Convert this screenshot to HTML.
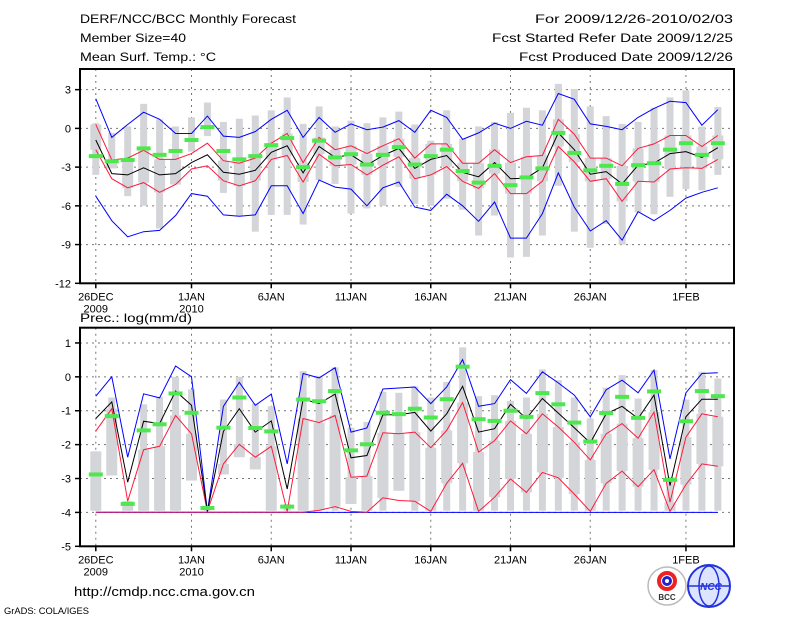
<!DOCTYPE html>
<html><head><meta charset="utf-8"><style>
body{margin:0;background:#fff;width:800px;height:618px;overflow:hidden}
svg{display:block;font-family:"Liberation Sans",sans-serif}
</style></head><body>
<svg id="chart" width="800" height="618" viewBox="0 0 800 618">
<g font-size="12" fill="#000">
<text x="80" y="23" textLength="216" lengthAdjust="spacingAndGlyphs">DERF/NCC/BCC Monthly Forecast</text>
<text x="80" y="42" textLength="106" lengthAdjust="spacingAndGlyphs">Member Size=40</text>
<text x="80" y="61" textLength="136" lengthAdjust="spacingAndGlyphs">Mean Surf. Temp.: °C</text>
<text x="535" y="23" textLength="198" lengthAdjust="spacingAndGlyphs">For 2009/12/26-2010/02/03</text>
<text x="492" y="42" textLength="241" lengthAdjust="spacingAndGlyphs">Fcst Started Refer Date 2009/12/25</text>
<text x="519" y="61" textLength="214" lengthAdjust="spacingAndGlyphs">Fcst Produced Date 2009/12/26</text>
</g>
<text x="80" y="322" font-size="12" textLength="112" lengthAdjust="spacingAndGlyphs">Prec.: log(mm/d)</text>
<text x="74" y="596" font-size="13" textLength="181" lengthAdjust="spacingAndGlyphs">http://cmdp.ncc.cma.gov.cn</text>
<text x="4" y="614" font-size="9" textLength="85" lengthAdjust="spacingAndGlyphs">GrADS: COLA/IGES</text>
<g>
<circle cx="667" cy="586" r="19" fill="#fff" stroke="#bbb" stroke-width="1.5"/>
<circle cx="667" cy="581" r="8" fill="none" stroke="#e22" stroke-width="4"/>
<circle cx="667" cy="581" r="3.5" fill="none" stroke="#22c" stroke-width="3"/>
<text x="667" y="600" font-size="8" text-anchor="middle" font-weight="bold" fill="#333">BCC</text>
</g>
<g>
<circle cx="709" cy="586" r="21" fill="#dde4ff" stroke="#2233dd" stroke-width="2"/>
<ellipse cx="709" cy="586" rx="10" ry="20" fill="none" stroke="#2233dd" stroke-width="1.5"/>
<line x1="688" y1="586" x2="730" y2="586" stroke="#2233dd" stroke-width="1.5"/>
<text x="711" y="590" font-size="10" text-anchor="middle" font-style="italic" font-weight="bold" fill="#2233dd">NCC</text>
</g>
<g id="plots"></g>
</svg>
<script>
// ---- data: temperature panel ----
const tBarMax=[0.4,-0.35,0.15,1.9,0.7,0.15,0.85,2.0,0.5,0.75,1.0,1.4,2.4,0.35,1.7,0.15,0.6,0.4,0.85,1.3,0.3,-0.95,1.4,-0.8,0.15,0.5,1.2,1.6,1.4,3.45,3.05,1.7,0.95,0.35,0.5,1.6,2.4,2.95,0.15,1.65];
const tBarMin=[-3.6,-3.1,-5.25,-6.0,-7.75,-4.35,-1.8,-0.6,-5.0,-6.8,-8.0,-6.7,-6.7,-7.45,-4.0,-4.3,-6.6,-6.2,-6.0,-4.55,-5.85,-6.0,-5.45,-6.3,-8.3,-6.75,-10.0,-9.95,-8.3,-4.45,-8.0,-9.25,-7.4,-9.0,-6.5,-6.65,-5.3,-4.7,-4.8,-3.6];
const tBlueHi=[2.3,-0.7,0.3,1.25,0.7,-0.4,-0.4,0.95,-0.6,-0.7,-0.25,0.7,1.4,-0.7,0.85,-0.3,0.35,-0.1,0.1,0.6,-0.3,1.4,0.85,-0.85,-0.35,0.4,0,0.55,0.25,2.7,2.25,0.35,0.15,-0.1,0.85,1.55,2.1,2.0,0.25,1.45];
const tBlueLo=[-5.25,-7.15,-8.4,-8.0,-7.9,-6.75,-5.05,-5.25,-6.7,-6.8,-6.7,-4.45,-4.45,-6.6,-4.0,-4.55,-4.7,-6.0,-4.6,-4.15,-6.1,-6.35,-5.1,-6.0,-7.2,-5.7,-8.5,-8.5,-6.6,-3.45,-6.1,-7.95,-7.15,-8.65,-6.45,-7.15,-6.35,-5.4,-4.95,-4.6];
const tRedHi=[0.3,-2.45,-2.3,-1.7,-2.4,-2.4,-1.95,-1.15,-2.5,-2.7,-2.3,-1.15,-0.4,-2.65,-0.7,-1.65,-1.35,-1.95,-1.35,-0.8,-2.3,-1.2,-1.2,-2.7,-2.7,-1.65,-2.65,-2.2,-2.1,0.7,-0.45,-2.3,-2.3,-2.9,-1.55,-1.2,-0.55,-0.55,-1.4,-0.55];
const tRedLo=[-1.65,-3.9,-4.6,-4.2,-4.95,-4.35,-3.15,-2.9,-4.05,-4.45,-4.05,-2.4,-2.1,-4.15,-2.0,-2.9,-2.8,-3.6,-2.85,-2.2,-3.9,-3.6,-2.95,-4.1,-4.65,-3.5,-5.05,-5.05,-4.1,-1.4,-2.6,-4.1,-3.9,-5.65,-4.1,-4.15,-3.15,-3.05,-3.1,-2.4];
const tMean=[-0.9,-3.5,-3.6,-3.05,-3.6,-3.5,-2.65,-2.05,-3.4,-3.55,-3.25,-1.85,-1.35,-3.45,-1.4,-2.25,-2.05,-2.85,-2.1,-1.55,-3.1,-2.4,-2.1,-3.4,-3.75,-2.65,-3.9,-3.85,-3.05,-0.35,-1.65,-3.55,-3.35,-4.3,-2.85,-2.7,-1.95,-1.8,-2.25,-1.5];
const tObs=[-2.15,-2.55,-2.45,-1.55,-2.05,-1.75,-0.9,0.1,-1.75,-2.4,-2.15,-1.3,-0.75,-3.0,-0.95,-2.25,-2.0,-2.8,-2.05,-1.45,-2.8,-2.15,-1.65,-3.3,-4.2,-2.9,-4.4,-3.8,-3.1,-0.35,-1.9,-3.25,-2.9,-4.3,-2.85,-2.7,-1.65,-1.15,-2.05,-1.15];
const tTicks=[3,0,-3,-6,-9,-12];
// ---- data: precipitation panel ----
const pBarMax=[-2.2,-0.61,-3.67,-0.81,-0.59,0,-0.37,-3.87,-0.67,0,-0.79,-0.87,-3.75,0.17,0.03,0.28,-1.5,-1.33,-0.44,-0.47,-0.28,-0.61,-0.15,0.87,-0.57,-0.54,-0.71,-0.61,0.22,-0.1,-0.61,-1.23,-0.32,0.05,-0.64,0.2,-2.96,-0.67,0.15,-0.05];
const pBarMin=[-3.95,-2.91,-3.95,-3.95,-3.95,-3.95,-3.06,-3.95,-2.88,-2.37,-2.73,-3.95,-3.95,-3.95,-3.95,-3.95,-3.75,-3.95,-3.95,-3.36,-3.95,-3.95,-3.95,-3.95,-3.95,-3.95,-3.95,-3.95,-3.95,-3.95,-3.95,-3.95,-3.95,-3.95,-3.95,-3.95,-3.95,-3.95,-3.95,-3.95];
const pBlueHi=[-0.57,0,-2.37,-0.5,-0.62,0.32,0,-3.97,-0.87,-0.16,-0.84,-0.51,-2.57,0.1,-0.03,0.27,-1.63,-1.51,-0.36,-0.33,-0.3,-0.79,-0.3,0.51,-0.87,-0.79,-0.08,-0.49,0.15,-0.18,-0.54,-1.18,-0.38,-0.1,-0.47,0.2,-2.42,-0.47,0.1,0.12];
const pBlueLo=[-4,-4,-4,-4,-4,-4,-4,-4,-4,-4,-4,-4,-4,-4,-4,-4,-4,-4,-4,-4,-4,-4,-4,-4,-4,-4,-4,-4,-4,-4,-4,-4,-4,-4,-4,-4,-4,-4,-4,-4];
const pRedHi=[-1.6,-0.94,-3.67,-2.15,-2.05,-1.14,-1.68,-3.97,-2.57,-1.99,-2.37,-2.05,-3.97,-1.23,-1.35,-1.14,-2.96,-2.93,-1.65,-1.68,-1.63,-2.09,-1.58,-0.76,-2.22,-1.88,-1.3,-1.68,-1.09,-1.48,-1.93,-2.45,-1.68,-1.38,-1.81,-1.04,-3.7,-1.78,-1.09,-1.18];
const pRedLo=[-3.99,-3.99,-3.99,-3.99,-3.99,-3.99,-3.99,-3.99,-3.99,-3.99,-3.99,-3.99,-3.99,-3.99,-3.94,-3.83,-3.97,-3.99,-3.57,-3.65,-3.67,-3.97,-3.14,-2.55,-3.97,-3.55,-3.01,-3.41,-2.82,-2.98,-3.46,-3.97,-3.14,-2.78,-3.24,-2.74,-3.97,-3.18,-2.57,-2.64];
const pMean=[-1.23,-0.74,-3.11,-1.31,-1.38,-0.42,-0.84,-3.97,-1.61,-0.94,-1.63,-1.3,-3.31,-0.66,-0.79,-0.51,-2.39,-2.32,-1.12,-1.12,-1.05,-1.6,-1.09,-0.28,-1.63,-1.53,-0.81,-1.23,-0.64,-1.07,-1.5,-1.95,-1.09,-0.87,-1.23,-0.54,-3.21,-1.18,-0.66,-0.66];
const pObs=[-2.88,-1.16,-3.75,-1.58,-1.4,-0.49,-1.06,-3.87,-1.5,-0.61,-1.51,-1.61,-3.83,-0.67,-0.72,-0.42,-2.17,-1.99,-1.06,-1.1,-0.94,-1.2,-0.66,0.3,-1.25,-1.3,-1.0,-1.18,-0.48,-0.81,-1.35,-1.91,-1.07,-0.59,-1.21,-0.43,-3.04,-1.31,-0.42,-0.57];
const pTicks=[1,0,-1,-2,-3,-4,-5];
const dateLabels=["26DEC","1JAN","6JAN","11JAN","16JAN","21JAN","26JAN","1FEB"];
const dateIdx=[0,6,11,16,21,26,31,37];
const yearLabels=["2009","2010"];
const yearIdx=[0,6];

const NS="http://www.w3.org/2000/svg";
const root=document.getElementById('plots');
function mk(tag,attrs,parent){const e=document.createElementNS(NS,tag);for(const k in attrs)e.setAttribute(k,attrs[k]);(parent||root).appendChild(e);return e;}
const X0=80,X1=734;
function xd(i){return 95.8+15.95*i;}

function panel(name,top,bottom,vmax,vmin,ticks,d,withYear){
  const g=mk('g',{});
  
  
  const y=v=>top+(vmax-v)/(vmax-vmin)*(bottom-top);
  ticks.forEach(t=>{
    if(t>vmin&&t<vmax){const l=mk('line',{x1:X0,x2:X1,y1:y(t),y2:y(t),stroke:'#777','stroke-dasharray':'2,4','stroke-width':1},g);
    }
    const tk=mk('line',{x1:X0-5,x2:X0,y1:y(t),y2:y(t),stroke:'#000','stroke-width':1.5},g);
    
    const tx=mk('text',{x:X0-9,y:y(t)+4,'font-size':11,'text-anchor':'end'},g);
    
    tx.textContent=String(t);
  });
  dateIdx.forEach((di,k)=>{
    const l=mk('line',{x1:xd(di),x2:xd(di),y1:top,y2:bottom,stroke:'#777','stroke-dasharray':'2,4','stroke-width':1},g);
    
    const tk=mk('line',{x1:xd(di),x2:xd(di),y1:bottom,y2:bottom+5,stroke:'#000','stroke-width':1.5},g);
    
    const tx=mk('text',{x:xd(di),y:bottom+17,'font-size':11,'text-anchor':'middle'},g);
    
    tx.textContent=dateLabels[k];
  });
  yearIdx.forEach((di,k)=>{
    const tx=mk('text',{x:xd(di),y:bottom+29,'font-size':11,'text-anchor':'middle'},g);
    
    tx.textContent=yearLabels[k];
  });
  for(let i=0;i<d.bMax.length;i++){
    const r=mk('rect',{x:xd(i)-3.5,width:7,y:y(d.bMax[i]),height:Math.max(1,y(d.bMin[i])-y(d.bMax[i])),fill:'#d4d5d9'},g);
    
    const hi=Math.min(d.rHi[i],d.bMax[i]),lo=Math.max(d.rLo[i],d.bMin[i]);
    if(hi>lo){const b=mk('rect',{x:xd(i)-5.5,width:11,y:y(hi),height:y(lo)-y(hi),fill:'#d4d5d9'},g);
    }
  }
  const line=(arr,col,nm)=>{
    const p=mk('polyline',{points:arr.map((v,i)=>xd(i).toFixed(1)+','+y(v).toFixed(1)).join(' '),fill:'none',stroke:col,'stroke-width':1},g);
    
  };
  line(d.blLo,'#0000ff','min-line');
  line(d.rLo,'#ff1a3c','lower-red-line');
  line(d.rHi,'#ff1a3c','upper-red-line');
  line(d.blHi,'#0000ff','max-line');
  line(d.mean,'#000','ensemble-mean-line');
  for(let i=0;i<d.obs.length;i++){
    const r=mk('rect',{x:xd(i)-7,width:14,y:y(d.obs[i])-2,height:4,fill:'#4de84d'},g);
    
  }
  const f=mk('rect',{x:X0,y:top,width:X1-X0,height:bottom-top,fill:'none',stroke:'#000','stroke-width':2},g);
  
}
panel('temperature-panel',69,283.3,4.6,-12,tTicks,{bMax:tBarMax,bMin:tBarMin,blHi:tBlueHi,blLo:tBlueLo,rHi:tRedHi,rLo:tRedLo,mean:tMean,obs:tObs});
panel('precipitation-panel',327.7,546.3,1.45,-5,pTicks,{bMax:pBarMax,bMin:pBarMin,blHi:pBlueHi,blLo:pBlueLo,rHi:pRedHi,rLo:pRedLo,mean:pMean,obs:pObs});
</script>
</body></html>
